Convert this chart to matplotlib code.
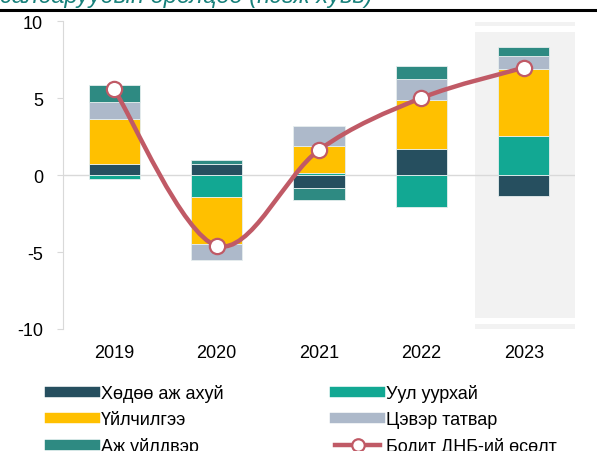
import numpy as np
import matplotlib
matplotlib.use("Agg")
import matplotlib.pyplot as plt
from matplotlib.path import Path
from matplotlib.patches import PathPatch
from matplotlib.lines import Line2D

plt.rcParams['font.family'] = ['Liberation Sans', 'DejaVu Sans']

years = ['2019', '2020', '2021', '2022', '2023']
agri = [0.69, 0.73, -0.86, 1.67, -1.34]
mining = [-0.24, -1.43, 0.11, -2.10, 2.55]
services = [2.95, -3.05, 1.75, 3.20, 4.35]
tax = [1.08, -1.04, 1.34, 1.36, 0.85]
industry = [1.12, 0.24, -0.74, 0.85, 0.56]
gdp = [5.56, -4.59, 1.62, 5.00, 6.97]

labels = ['Хөдөө аж ахуй', 'Уул уурхай', 'Үйлчилгээ', 'Цэвэр татвар', 'Аж үйлдвэр']
colors = ['#264f5f', '#12a893', '#ffc000', '#adb9ca', '#2e8a82']
line_label = 'Бодит ДНБ-ий өсөлт'
line_color = '#c05a66'

fig = plt.figure(figsize=(5.97, 4.52), dpi=100)
ax = fig.add_axes([63 / 597, 1 - 330 / 452, 512 / 597, 308 / 452])

x = np.arange(len(years))

# shaded band behind 2023
ax.fill_between([3.52, 4.5], -10, 9.93, color='#f2f2f2', zorder=0, lw=0)
ax.fill_between([3.52, 4.5], 9.3, 9.68, color='white', zorder=0, lw=0)
ax.fill_between([3.52, 4.5], -9.3, -9.68, color='white', zorder=0, lw=0)

ax.axhline(0, color='#d9d9d9', lw=1, zorder=1)

pos_base = np.zeros(len(years))
neg_base = np.zeros(len(years))
for vals, c in zip([agri, mining, services, tax, industry], colors):
    v = np.array(vals)
    bottoms = np.where(v >= 0, pos_base, neg_base)
    ax.bar(x, v, width=0.5, bottom=bottoms, color=c, edgecolor='#e6eeee', lw=0.6, zorder=2)
    pos_base = pos_base + np.where(v >= 0, v, 0)
    neg_base = neg_base + np.where(v < 0, v, 0)

# smooth line (Excel-style bezier)
pts = np.column_stack([x, gdp]).astype(float)
ext = np.vstack([pts[0], pts, pts[-1]])
verts = [tuple(pts[0])]
codes = [Path.MOVETO]
for i in range(len(pts) - 1):
    p0, p1, p2, p3 = ext[i], ext[i + 1], ext[i + 2], ext[i + 3]
    c1 = p1 + (p2 - p0) / 6
    c2 = p2 - (p3 - p1) / 6
    verts += [tuple(c1), tuple(c2), tuple(p2)]
    codes += [Path.CURVE4] * 3
ax.add_patch(PathPatch(Path(verts, codes), fill=False, edgecolor=line_color, lw=3.2, zorder=3, capstyle='round'))
ax.plot(x, gdp, ls='none', marker='o', ms=11, mfc='white', mec=line_color, mew=1.6, zorder=4)

ax.set_xlim(-0.5, 4.5)
ax.set_ylim(-10, 10)
ax.set_yticks([-10, -5, 0, 5, 10])
ax.set_yticklabels(['-10', '-5', '0', '5', '10'])
ax.set_xticks(x)
ax.set_xticklabels(years)
for s in ['top', 'right', 'bottom']:
    ax.spines[s].set_visible(False)
ax.spines['left'].set_color('#d9d9d9')
ax.tick_params(axis='y', colors='#d9d9d9', labelcolor='black', labelsize=13, length=4.3, pad=10)
ax.tick_params(axis='x', length=0, labelsize=13, pad=11)

handles = [
    Line2D([], [], color=colors[0], lw=7.5),
    Line2D([], [], color=colors[2], lw=7.5),
    Line2D([], [], color=colors[4], lw=7.5),
    Line2D([], [], color=colors[1], lw=7.5),
    Line2D([], [], color=colors[3], lw=7.5),
    Line2D([], [], color=line_color, lw=3.2, marker='o', ms=9, mfc='white', mec=line_color, mew=1.6),
]
leg_labels = [labels[0], labels[2], labels[4], labels[1], labels[3], line_label]
fig.legend(handles, leg_labels, loc='upper left', bbox_to_anchor=(43 / 597, 1 - 378 / 452),
           ncol=2, frameon=False, fontsize=13, handlelength=2.5, handletextpad=0.3,
           labelspacing=0.5, columnspacing=6.2, borderaxespad=0)

# cut-off title and rule at top
fig.text(0.0, 1 - 3 / 452, 'салбаруудын оролцоо (нэгж хувь)', color='#17807a',
         fontsize=17, style='italic', va='baseline', ha='left')
fig.add_artist(Line2D([0, 1], [1 - 10.5 / 452, 1 - 10.5 / 452], color='black', lw=2.2, transform=fig.transFigure))

fig.savefig('out.png', dpi=100)
